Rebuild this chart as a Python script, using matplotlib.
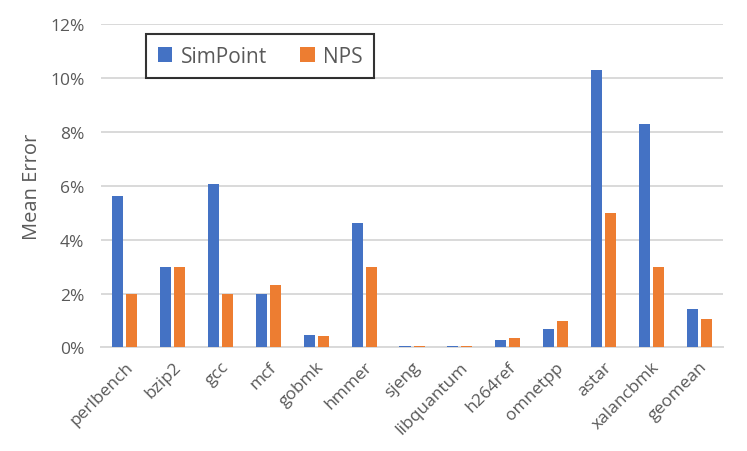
import matplotlib
matplotlib.use("Agg")
import matplotlib.pyplot as plt
import numpy as np
from matplotlib.ticker import FuncFormatter

# Benchmarks and mean error (%)
BENCHMARKS = ["perlbench", "bzip2", "gcc", "mcf", "gobmk", "hmmer", "sjeng",
              "libquantum", "h264ref", "omnetpp", "astar", "xalancbmk", "geomean"]
SIMPOINT = [5.6, 3.0, 6.05, 2.0, 0.46, 4.6, 0.07, 0.07, 0.29, 0.7, 10.3, 8.3, 1.44]
NPS = [2.0, 3.0, 2.0, 2.3, 0.42, 3.0, 0.07, 0.07, 0.36, 1.0, 5.0, 3.0, 1.07]
Y_TICKS = [0, 2, 4, 6, 8, 10, 12]

BLUE = "#4472C4"
ORANGE = "#ED7D31"
GREY_TEXT = "#595959"
GRID = "#D9D9D9"

plt.rcParams["font.family"] = ["Open Sans", "DejaVu Sans"]

fig = plt.figure(figsize=(7.47, 4.52), dpi=100)
ax = fig.add_axes([0.1352, 0.229, 0.8327, 0.7164])

x = np.arange(len(BENCHMARKS))
width = 0.23
gap = 0.063
off = (width + gap) / 2
ax.bar(x - off, SIMPOINT, width, color=BLUE, label="SimPoint", zorder=3)
ax.bar(x + off, NPS, width, color=ORANGE, label="NPS", zorder=3)

ax.set_xlim(-0.5, len(BENCHMARKS) - 0.5)
ax.set_ylim(0, 12)
ax.set_yticks(Y_TICKS)
ax.yaxis.set_major_formatter(FuncFormatter(lambda v, _: f"{v:.0f}%"))
ax.grid(axis="y", color=GRID, linewidth=1.4, zorder=0)
ax.set_axisbelow(True)

for side in ["top", "right", "left"]:
    ax.spines[side].set_visible(False)
ax.spines["bottom"].set_color(GRID)
ax.spines["bottom"].set_linewidth(1.4)

ax.set_xticks(x)
ax.set_xticklabels(BENCHMARKS, rotation=45, ha="right", rotation_mode="anchor")
ax.tick_params(axis="x", length=0, pad=8, labelsize=12.5, labelcolor=GREY_TEXT)
ax.tick_params(axis="y", length=0, pad=12, labelsize=12.5, labelcolor=GREY_TEXT)

ax.set_ylabel("Mean Error", fontsize=14.5, color=GREY_TEXT, labelpad=6)

leg = ax.legend(loc="center", bbox_to_anchor=(0.256, 0.9), ncol=2, fontsize=15,
                frameon=True, fancybox=False, edgecolor="black",
                handlelength=0.7, handleheight=0.7, handletextpad=0.4,
                columnspacing=1.6, borderpad=0.55, labelcolor=GREY_TEXT)
leg.get_frame().set_linewidth(1.5)

fig.savefig("out.png", dpi=100)
